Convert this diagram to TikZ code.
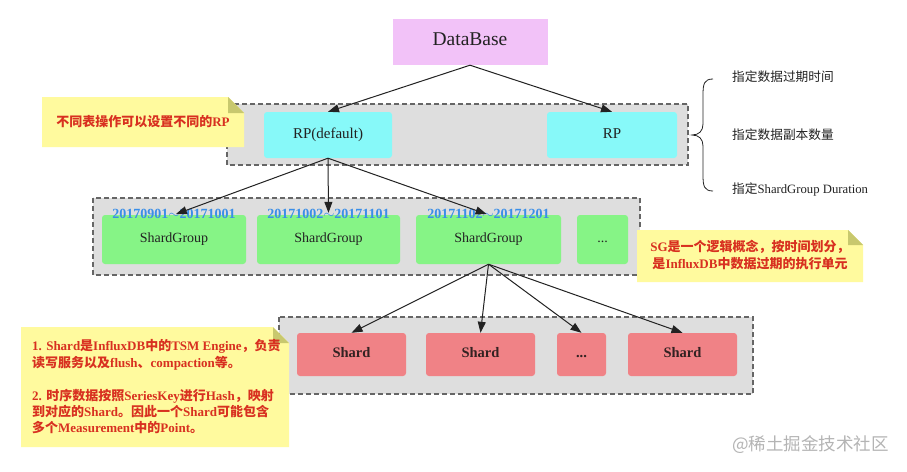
\documentclass[tikz,border=0pt]{standalone}
\usepackage{fontspec}
\setmainfont{Liberation Serif}
\newfontfamily\cjkfont{Noto Sans CJK SC}
\newcommand\zh[1]{{\cjkfont #1}}
\usetikzlibrary{arrows.meta}
\definecolor{dbcol}{HTML}{F2C2F8}
\definecolor{rpcol}{HTML}{87F9F9}
\definecolor{sgcol}{HTML}{86F486}
\definecolor{shcol}{HTML}{F08286}
\definecolor{contcol}{HTML}{DEDEDE}
\definecolor{bordcol}{HTML}{666666}
\definecolor{notecol}{HTML}{FFFA9E}
\definecolor{foldcol}{HTML}{C8C86E}
\definecolor{redtxt}{HTML}{D83020}
\definecolor{bluetxt}{HTML}{3A8EE8}
\definecolor{darktxt}{HTML}{222222}
\definecolor{shtxt}{HTML}{332222}
\definecolor{arrcol}{HTML}{222222}
\definecolor{wmcol}{HTML}{B4B4B4}
\begin{document}
\begin{tikzpicture}[x=1pt,y=-1pt,
  container/.style={draw=bordcol, fill=contcol, line width=1.2pt, dash pattern=on 5pt off 3pt},
  box/.style={rounded corners=3pt, inner sep=0pt, text=darktxt, text height=0.66em, text depth=0pt},
  dbbox/.style={box, rounded corners=0pt, fill=dbcol, minimum width=155pt, minimum height=46pt, font=\fontsize{19.5}{22}\selectfont},
  rpbox/.style={box, fill=rpcol, minimum height=46pt, font=\fontsize{15}{18}\selectfont},
  sgbox/.style={box, fill=sgcol, minimum height=49pt, font=\fontsize{14}{17}\selectfont},
  shbox/.style={box, fill=shcol, minimum height=43pt, text=shtxt, font=\bfseries\fontsize{14.5}{17}\selectfont},
  datelab/.style={inner sep=0pt, text=bluetxt, text height=0.66em, text depth=0pt, font=\bfseries\fontsize{14}{17}\selectfont},
  arr/.style={draw=arrcol, line width=1pt, -{Triangle[length=11pt,width=8pt]}},
  notebg/.style={fill=notecol},
  notefold/.style={fill=foldcol},
  notetxt/.style={inner sep=0pt, text=redtxt, font=\bfseries\fontsize{13}{16.4}\selectfont},
  sidetxt/.style={inner sep=0pt, anchor=west, text=darktxt, font=\fontsize{12.7}{15}\selectfont},
  brace/.style={draw=darktxt, line width=0.8pt}
]
\useasboundingbox[fill=white] (0,0) rectangle (907,471);

% containers
\draw[container] (227,104) rectangle (688,165);
\draw[container] (93,198) rectangle (640,275);
\draw[container] (279,317) rectangle (753,394);

% database
\node[dbbox] (db) at (470,42) {DataBase};

% RP
\node[rpbox, minimum width=128pt] (rp1) at (328,135) {RP(default)};
\node[rpbox, minimum width=130pt] (rp2) at (612,135) {RP};

% shard groups
\node[sgbox, minimum width=144pt] (sg1) at (174,239.5) {ShardGroup};
\node[sgbox, minimum width=143pt] (sg2) at (328.5,239.5) {ShardGroup};
\node[sgbox, minimum width=145pt] (sg3) at (488.5,239.5) {ShardGroup};
\node[sgbox, minimum width=51pt] (sg4) at (602.5,239.5) {...};

\node[datelab] (d1) at (sg1.north) {20170901$\sim$20171001};
\node[datelab] (d2) at (sg2.north) {20171002$\sim$20171101};
\node[datelab] (d3) at (sg3.north) {20171102$\sim$20171201};

% shards
\node[shbox, minimum width=109pt] (s1) at (351.5,354.5) {Shard};
\node[shbox, minimum width=109pt] (s2) at (480.5,354.5) {Shard};
\node[shbox, minimum width=49pt] (s3) at (581.5,354.5) {...};
\node[shbox, minimum width=109pt] (s4) at (682.5,354.5) {Shard};

% arrows
\draw[arr] (db.south) -- (rp1.north);
\draw[arr] (db.south) -- (rp2.north);
\draw[arr, shorten >=2pt] (rp1.south) -- (d1.center);
\draw[arr, shorten >=2pt] (rp1.south) -- (d2.center);
\draw[arr, shorten >=2pt] (rp1.south) -- (d3.center);
\draw[arr] (sg3.south) -- (s1.north);
\draw[arr] (sg3.south) -- (s2.north);
\draw[arr] (sg3.south) -- (s3.north);
\draw[arr] (sg3.south) -- (s4.north);

% brace
\draw[brace] (713,79) .. controls (704,79) and (703,84) .. (703,95) -- (703,124)
  .. controls (703,131) and (699,135) .. (692,135)
  .. controls (699,135) and (703,139) .. (703,146) -- (703,175)
  .. controls (703,186) and (704,191) .. (713,191);
\node[sidetxt] (t1) at (732,77) {\zh{指定数据过期时间}};
\node[sidetxt] (t2) at (732,135) {\zh{指定数据副本数量}};
\node[sidetxt] (t3) at (732,189) {\zh{指定}ShardGroup Duration};

% note 1
\fill[notebg] (42,97) -- (228,97) -- (244,113) -- (244,147) -- (42,147) -- cycle;
\fill[notefold] (228,97) -- (228,113) -- (244,113) -- cycle;
\node[notetxt] (n1) at (143,122) {\zh{不同表操作可以设置不同的}RP};

% note SG
\fill[notebg] (637,230) -- (848,230) -- (863,245) -- (863,282) -- (637,282) -- cycle;
\fill[notefold] (848,230) -- (848,245) -- (863,245) -- cycle;
\node[notetxt, align=center] (n2) at (750,255) {SG\zh{是一个逻辑概念，按时间划分，}\\\zh{是}InfluxDB\zh{中数据过期的执行单元}};

% note shard
\fill[notebg] (21,327) -- (273,327) -- (289,343) -- (289,447) -- (21,447) -- cycle;
\fill[notefold] (273,327) -- (273,343) -- (289,343) -- cycle;
\node[notetxt, align=left, anchor=west] (n3) at (32,387) {1. Shard\zh{是}InfluxDB\zh{中的}TSM Engine\zh{，负责}\\
\zh{读写服务以及}flush\zh{、}compaction\zh{等。}\\
\mbox{}\\
2. \zh{时序数据按照}SeriesKey\zh{进行}Hash\zh{，映射}\\
\zh{到对应的}Shard\zh{。因此一个}Shard\zh{可能包含}\\
\zh{多个}Measurement\zh{中的}Point\zh{。}};

% watermark
\node[inner sep=0pt, anchor=west, text=wmcol, font=\fontsize{17.5}{20}\selectfont] (wm) at (732,445) {\zh{@稀土掘金技术社区}};
\end{tikzpicture}
\end{document}
